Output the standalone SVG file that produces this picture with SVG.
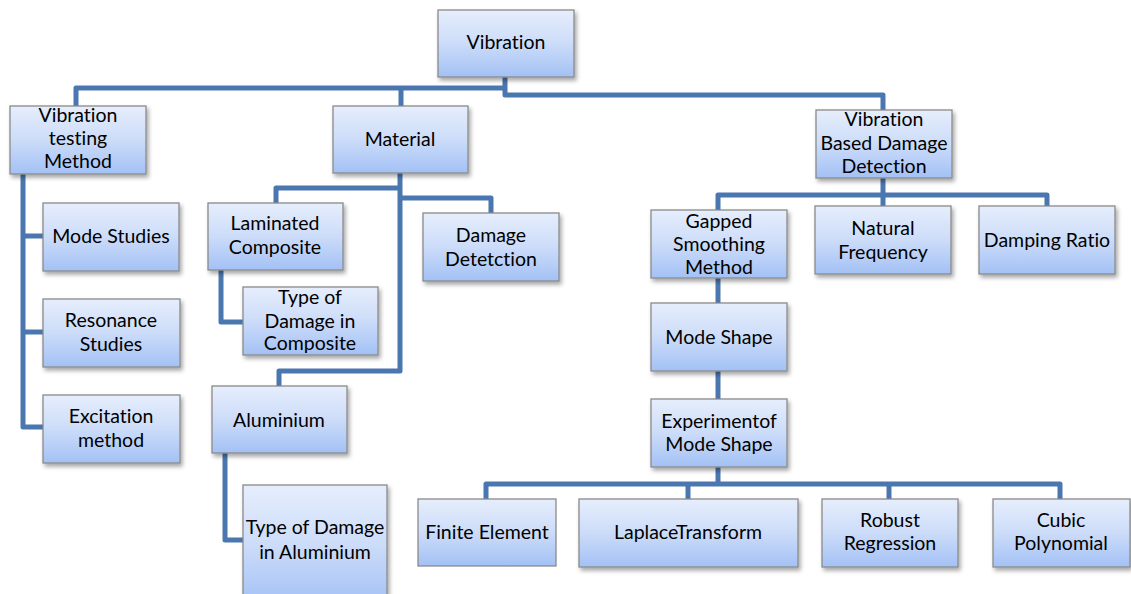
<svg xmlns="http://www.w3.org/2000/svg" width="1131" height="594" viewBox="0 0 1131 594">
<defs>
<linearGradient id="g" x1="0" y1="0" x2="0" y2="1">
<stop offset="0" stop-color="#e6eefc"/>
<stop offset="0.5" stop-color="#ccdcf9"/>
<stop offset="1" stop-color="#a3c1f5"/>
</linearGradient>
<filter id="sh" x="-10%" y="-10%" width="125%" height="130%">
<feDropShadow dx="2" dy="3" stdDeviation="2" flood-color="#000" flood-opacity="0.35"/>
</filter>
</defs>
<style>
.b{fill:url(#g);stroke:#8a8a8a;stroke-width:1.3;filter:url(#sh)}
.n{fill:url(#g);stroke:#8a8a8a;stroke-width:1.3}
.t{font-family:Lato,"Liberation Sans",sans-serif;font-size:19.5px;fill:#000;text-anchor:middle;font-variant-ligatures:none;font-feature-settings:"liga" 0,"clig" 0}
.c{fill:none;stroke:#4a77b0;stroke-width:5;stroke-linejoin:round;stroke-linecap:butt}
</style>
<rect width="1131" height="594" fill="#fff"/>
<g id="connectors">
<path class="c" d="M505 77 V95 H883 V110"/>
<path class="c" d="M505 88 H76 V106"/>
<path class="c" d="M401 88 V106"/>
<path class="c" d="M23 174 V427 H43"/>
<path class="c" d="M23 236 H43"/>
<path class="c" d="M23 332 H43"/>
<path class="c" d="M400 173 V371 H279 V386"/>
<path class="c" d="M400 188 H276 V203"/>
<path class="c" d="M400 198 H491 V213"/>
<path class="c" d="M221 270 V322 H243"/>
<path class="c" d="M225 453 V540 H243"/>
<path class="c" d="M883 178 V206"/>
<path class="c" d="M718 210 V195 H1047 V206"/>
<path class="c" d="M718 278 V303"/>
<path class="c" d="M718 371 V399"/>
<path class="c" d="M718 467 V484"/>
<path class="c" d="M486 499 V484 H1060 V499"/>
<path class="c" d="M688 484 V499"/>
<path class="c" d="M889 484 V499"/>
</g>
<g id="vibration"><rect class="b" x="438" y="10" width="136" height="67"/><text class="t" x="506" y="49">Vibration</text></g>
<g id="vtm"><rect class="b" x="10" y="106" width="136" height="68"/><text class="t"><tspan x="78" y="122">Vibration</tspan><tspan x="78" y="145">testing</tspan><tspan x="78" y="168">Method</tspan></text></g>
<g id="material"><rect class="b" x="333" y="106" width="135" height="67"/><text class="t" x="400" y="146">Material</text></g>
<g id="vbdd"><rect class="b" x="816" y="110" width="136" height="68"/><text class="t"><tspan x="884" y="126">Vibration</tspan><tspan x="884" y="150">Based Damage</tspan><tspan x="884" y="173">Detection</tspan></text></g>
<g id="mode-studies"><rect class="b" x="43" y="203" width="136" height="68"/><text class="t" x="111" y="243">Mode Studies</text></g>
<g id="resonance"><rect class="b" x="43" y="299" width="137" height="68"/><text class="t"><tspan x="111" y="327">Resonance</tspan><tspan x="111" y="351">Studies</tspan></text></g>
<g id="excitation"><rect class="b" x="43" y="395" width="137" height="68"/><text class="t"><tspan x="111" y="423">Excitation</tspan><tspan x="111" y="447">method</tspan></text></g>
<g id="laminated"><rect class="b" x="208" y="203" width="135" height="67"/><text class="t"><tspan x="275" y="230">Laminated</tspan><tspan x="275" y="254">Composite</tspan></text></g>
<g id="tod-composite"><rect class="b" x="243" y="287" width="135" height="68"/><text class="t"><tspan x="310" y="304">Type of</tspan><tspan x="310" y="328">Damage in</tspan><tspan x="310" y="350">Composite</tspan></text></g>
<g id="damage-detection"><rect class="b" x="423" y="213" width="136" height="68"/><text class="t"><tspan x="491" y="242">Damage</tspan><tspan x="491" y="266">Detetction</tspan></text></g>
<g id="aluminium"><rect class="b" x="212" y="386" width="135" height="67"/><text class="t" x="279" y="427">Aluminium</text></g>
<g id="tod-aluminium"><rect class="b" x="243" y="485" width="144" height="120"/><text class="t"><tspan x="315" y="534">Type of Damage</tspan><tspan x="315" y="559">in Aluminium</tspan></text></g>
<g id="gsm"><rect class="b" x="651" y="210" width="136" height="68"/><text class="t"><tspan x="719" y="228">Gapped</tspan><tspan x="719" y="251">Smoothing</tspan><tspan x="719" y="274">Method</tspan></text></g>
<g id="natural"><rect class="b" x="815" y="206" width="136" height="68"/><text class="t"><tspan x="883" y="235">Natural</tspan><tspan x="883" y="259">Frequency</tspan></text></g>
<g id="damping"><rect class="b" x="979" y="206" width="136" height="68"/><text class="t" x="1047" y="247">Damping Ratio</text></g>
<g id="mode-shape"><rect class="b" x="651" y="303" width="136" height="68"/><text class="t" x="719" y="344">Mode Shape</text></g>
<g id="experiment"><rect class="b" x="651" y="399" width="136" height="68"/><text class="t"><tspan x="719" y="428">Experimentof</tspan><tspan x="719" y="451">Mode Shape</tspan></text></g>
<g id="finite"><rect class="n" x="418" y="499" width="138" height="67"/><text class="t" x="487" y="539">Finite Element</text></g>
<g id="laplace"><rect class="b" x="579" y="499" width="219" height="68"/><text class="t" x="688" y="539">LaplaceTransform</text></g>
<g id="robust"><rect class="b" x="822" y="499" width="136" height="68"/><text class="t"><tspan x="890" y="527">Robust</tspan><tspan x="890" y="550">Regression</tspan></text></g>
<g id="cubic"><rect class="b" x="993" y="499" width="137" height="68"/><text class="t"><tspan x="1061" y="527">Cubic</tspan><tspan x="1061" y="550">Polynomial</tspan></text></g>
</svg>
